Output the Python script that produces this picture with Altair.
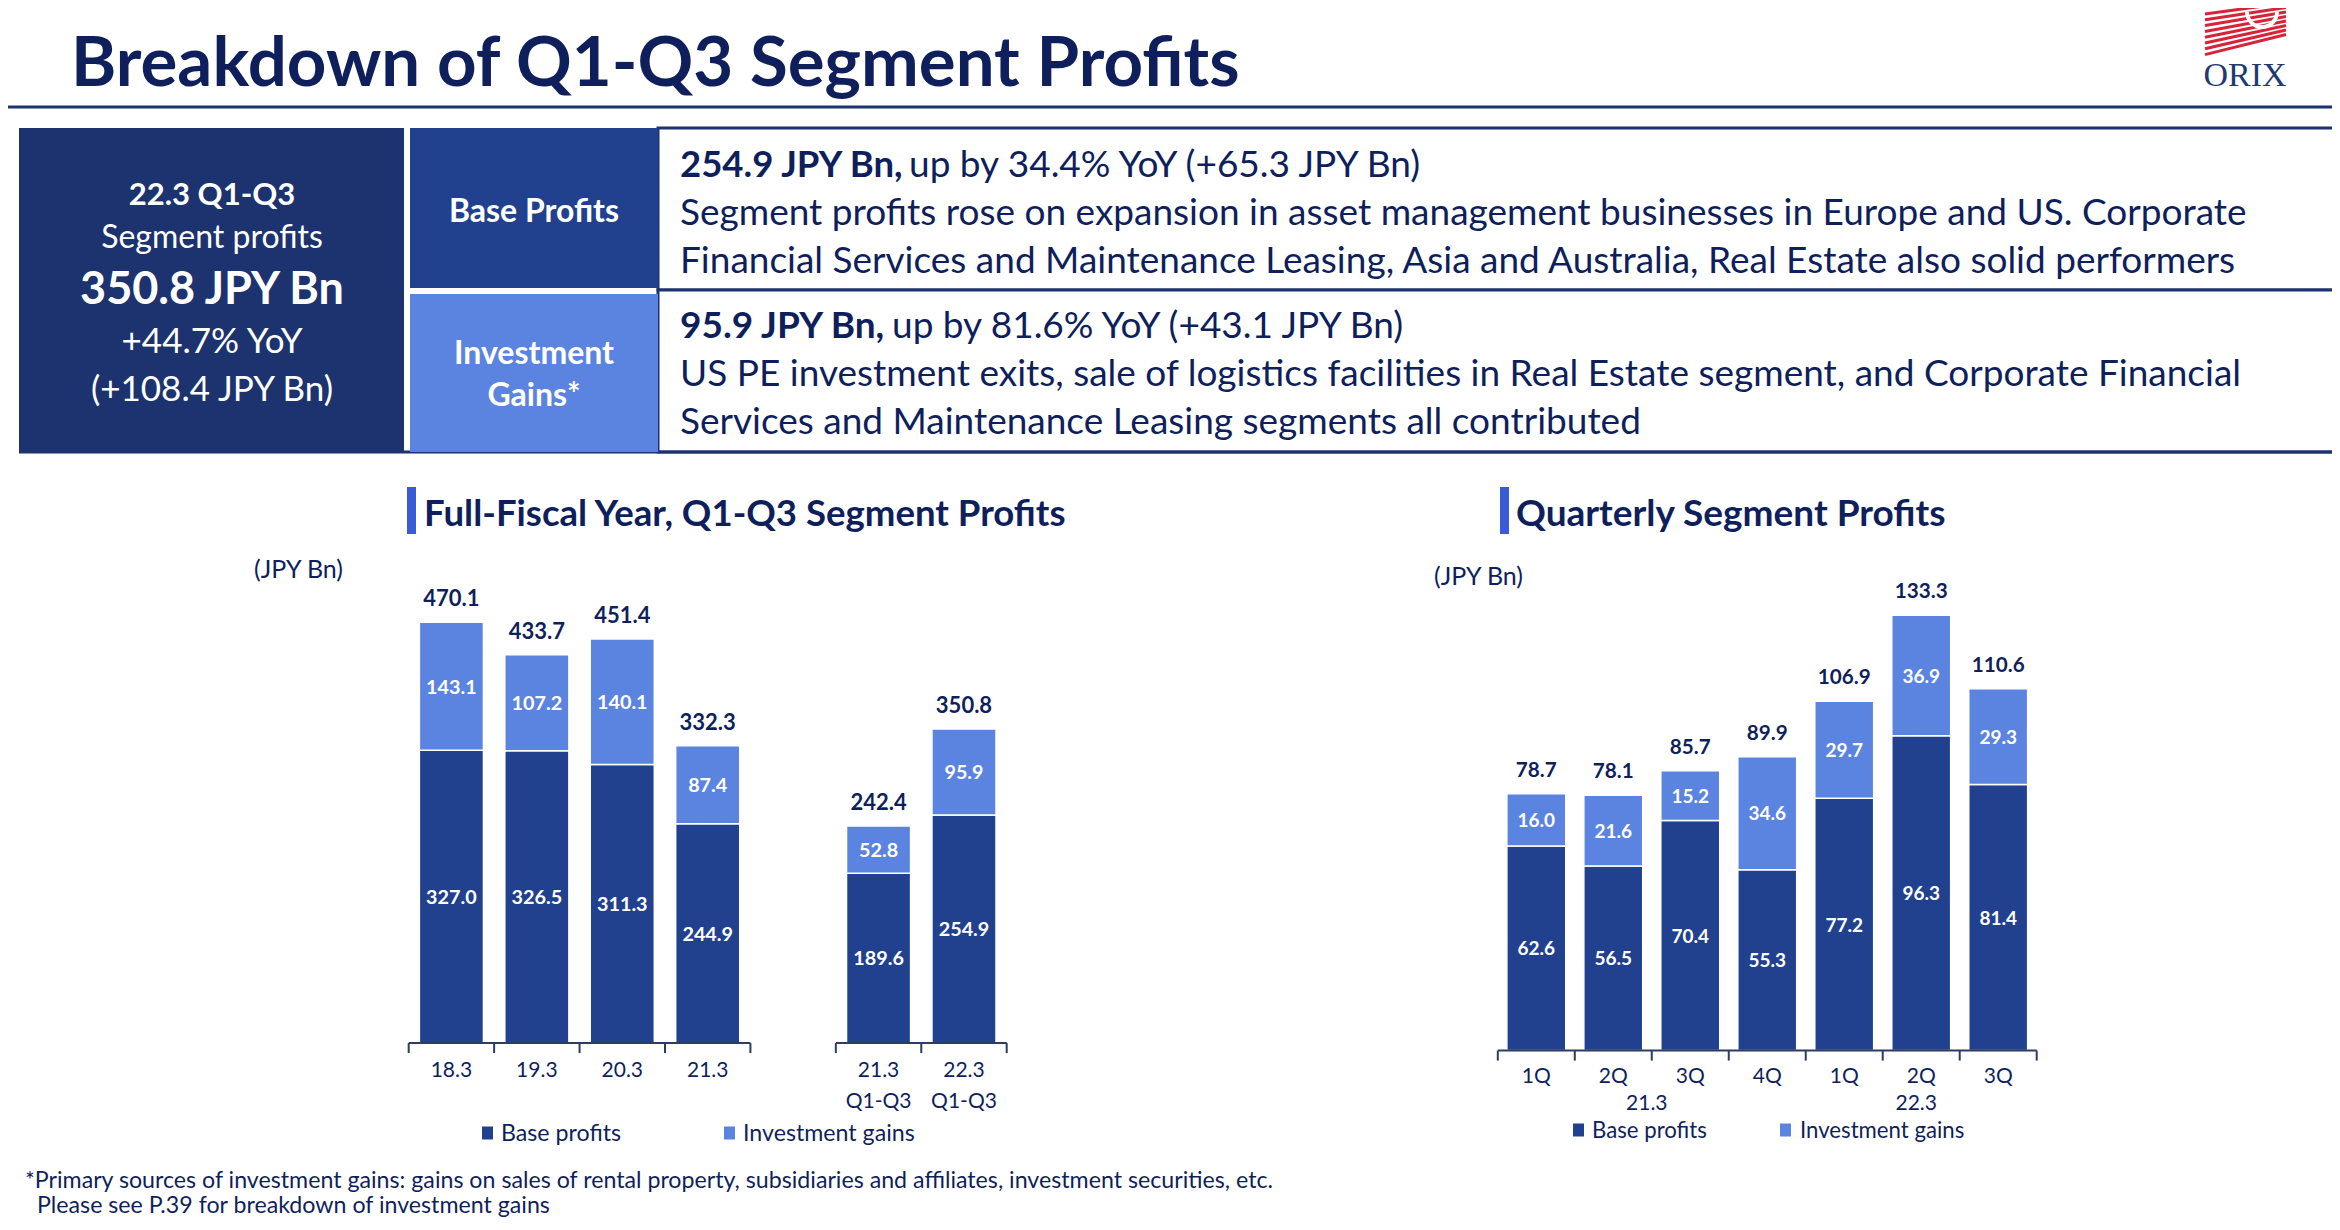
import math
import altair as alt
import pandas as pd

# ---------------- data ----------------
FY_CATS = ['18.3', '19.3', '20.3', '21.3', '21.3 Q1-Q3', '22.3 Q1-Q3']
FY_BASE = [327.0, 326.5, 311.3, 244.9, 189.6, 254.9]
FY_INV = [143.1, 107.2, 140.1, 87.4, 52.8, 95.9]
FY_TOTAL = [470.1, 433.7, 451.4, 332.3, 242.4, 350.8]
FY_GROUPS = [FY_CATS[:4], FY_CATS[4:]]

Q_FY = ['21.3', '21.3', '21.3', '21.3', '22.3', '22.3', '22.3']
Q_QTR = ['1Q', '2Q', '3Q', '4Q', '1Q', '2Q', '3Q']
Q_BASE = [62.6, 56.5, 70.4, 55.3, 77.2, 96.3, 81.4]
Q_INV = [16.0, 21.6, 15.2, 34.6, 29.7, 36.9, 29.3]
Q_TOTAL = [78.7, 78.1, 85.7, 89.9, 106.9, 133.3, 110.6]

SERIES = ['Base profits', 'Investment gains']

TITLE = 'Breakdown of Q1-Q3 Segment Profits'
SUMMARY = ['22.3 Q1-Q3', 'Segment profits', '350.8 JPY Bn', '+44.7% YoY', '(+108.4 JPY Bn)']
BASE_HEAD = ['254.9 JPY Bn,', 'up by 34.4% YoY (+65.3 JPY Bn)']
BASE_BODY = ['Segment profits rose on expansion in asset management businesses in Europe and US. Corporate',
             'Financial Services and Maintenance Leasing, Asia and Australia, Real Estate also solid performers']
INV_HEAD = ['95.9 JPY Bn,', 'up by 81.6% YoY (+43.1 JPY Bn)']
INV_BODY = ['US PE investment exits, sale of logistics facilities in Real Estate segment, and Corporate Financial',
            'Services and Maintenance Leasing segments all contributed']
FOOT = ['*Primary sources of investment gains: gains on sales of rental property, subsidiaries and affiliates, investment securities, etc.',
        'Please see P.39 for breakdown of investment gains']

# ---------------- style ----------------
FONT = 'Lato'
NAVY = '#0F1F5C'
DARK = '#1D3370'
BASE_C = '#21418F'
INV_C = '#5B84E0'
ACCENT = '#3A5BD8'
AXIS_C = '#2E3B63'
RED = '#D6243A'
M = 8
W, H = 2340 - 2 * M, 1230 - 2 * M

ONE = pd.DataFrame({'k': [0]})


def px(v):
    return v - M


def text(s, x, y, size, color=NAVY, bold=False, align='left', font=FONT, baseline='middle'):
    dy = 0.06 * size if baseline == 'middle' else 0
    return alt.Chart(ONE).mark_text(text=s, fontSize=size, font=font,
                                    fontWeight='bold' if bold else 'normal',
                                    color=color, align=align, baseline=baseline).encode(
        x=alt.value(px(x)), y=alt.value(px(y) + dy))


def rect(x0, y0, x1, y1, fill, stroke=None, sw=0):
    kw = dict(fill=fill)
    if stroke:
        kw.update(stroke=stroke, strokeWidth=sw)
    return alt.Chart(ONE).mark_rect(**kw).encode(
        x=alt.value(px(x0)), x2=alt.value(px(x1)), y=alt.value(px(y0)), y2=alt.value(px(y1)))


def rule(x0, y0, x1, y1, color, sw):
    return alt.Chart(ONE).mark_rule(color=color, strokeWidth=sw).encode(
        x=alt.value(px(x0)), x2=alt.value(px(x1)), y=alt.value(px(y0)), y2=alt.value(px(y1)))


decor = []
# title + rule
decor.append(text(TITLE, 71, 86, 69, bold=True, baseline='alphabetic'))
decor.append(rule(0, 107, 2340, 107, DARK, 3))

# logo
for i in range(8):
    decor.append(rule(2205, 14 + i * 5.8, 2286, 3 + i * 4.5, RED, 3))
decor.append(alt.Chart(ONE).mark_arc(radius=17, radius2=13, theta=math.pi / 2, theta2=3 * math.pi / 2,
                                     color='white').encode(x=alt.value(px(2262)), y=alt.value(px(12))))
decor.append(text('ORIX', 2245, 86, 34, color='#1E3B70', align='center',
                  font='Liberation Serif', baseline='alphabetic'))

# header boxes
decor.append(rect(658, 128, 2335, 290, 'white', DARK, 3))
decor.append(rect(658, 290, 2335, 452, 'white', DARK, 3))
decor.append(rule(19, 452, 2336, 452, DARK, 3))
decor.append(rect(19, 128, 404, 452, DARK))
decor.append(rect(410, 128, 658, 288, BASE_C))
decor.append(rect(410, 294, 658, 452, INV_C))

sum_y = [194, 236, 287, 340, 388]
sum_size = [31, 32, 45, 35, 35]
sum_bold = [True, False, True, False, False]
for s, y, sz, b in zip(SUMMARY, sum_y, sum_size, sum_bold):
    decor.append(text(s, 212, y, sz, color='white', bold=b, align='center'))

decor.append(text('Base Profits', 534, 210, 32, color='white', bold=True, align='center'))
decor.append(text('Investment', 534, 352, 32, color='white', bold=True, align='center'))
decor.append(text('Gains*', 534, 394, 32, color='white', bold=True, align='center'))

BODY = 37
decor.append(text(BASE_HEAD[0], 680, 164, 36.5, bold=True))
decor.append(text(BASE_HEAD[1], 909, 164, BODY))
decor.append(text(BASE_BODY[0], 680, 212, BODY))
decor.append(text(BASE_BODY[1], 680, 260, BODY))
decor.append(text(INV_HEAD[0], 680, 325, 37, bold=True))
decor.append(text(INV_HEAD[1], 892, 325, BODY))
decor.append(text(INV_BODY[0], 680, 373, BODY))
decor.append(text(INV_BODY[1], 680, 421, BODY))

# section titles
decor.append(rect(407, 487, 416, 534, ACCENT))
decor.append(text('Full-Fiscal Year, Q1-Q3 Segment Profits', 424, 513, 36.6, bold=True))
decor.append(rect(1500, 487, 1509, 534, ACCENT))
decor.append(text('Quarterly Segment Profits', 1516, 513, 37, bold=True))
decor.append(text('(JPY Bn)', 254, 568, 25))
decor.append(text('(JPY Bn)', 1434, 575, 25))


def legend(xs, cy, size):
    out = []
    for (xsq, xt), name, col in zip(xs, SERIES, [BASE_C, INV_C]):
        out.append(rect(xsq, cy - 6.5, xsq + 11, cy + 6.5, col))
        out.append(text(name, xt, cy, size))
    return out


decor += legend([(482, 501), (724, 743)], 1133, 23.2)
decor += legend([(1573, 1592), (1780, 1800)], 1130, 22.2)

decor.append(text(FOOT[0], 25, 1180, 23.2))
decor.append(text(FOOT[1], 37, 1205, 23.2))


# ---------------- bar panels ----------------
def bar_panel(df, xs, ys, step, y0, tot_size, in_size, group_keys, end_keys):
    X = alt.X('key:N', scale=xs, axis=None)
    base = alt.Chart(df).transform_calculate(
        top='datum.base + datum.inv', mid_b='datum.base / 2', mid_i='datum.base + datum.inv / 2')
    b1 = base.mark_bar(color=BASE_C, stroke='white', strokeWidth=1.5).encode(
        x=X, y=alt.Y('base:Q', scale=ys, axis=None))
    b2 = base.mark_bar(color=INV_C, stroke='white', strokeWidth=1.5).encode(
        x=X, y=alt.Y('base:Q', scale=ys, axis=None), y2='top:Q')
    tb = base.mark_text(color='white', fontWeight='bold', fontSize=in_size, font=FONT,
                        baseline='middle', dy=0.06 * in_size).encode(
        x=X, y=alt.Y('mid_b:Q', scale=ys, axis=None), text=alt.Text('base:Q', format='.1f'))
    ti = base.mark_text(color='white', fontWeight='bold', fontSize=in_size, font=FONT,
                        baseline='middle', dy=0.06 * in_size).encode(
        x=X, y=alt.Y('mid_i:Q', scale=ys, axis=None), text=alt.Text('inv:Q', format='.1f'))
    tt = base.mark_text(color=NAVY, fontWeight='bold', fontSize=tot_size, font=FONT,
                        baseline='middle', dy=-23).encode(
        x=X, y=alt.Y('top:Q', scale=ys, axis=None), text=alt.Text('total:Q', format='.1f'))
    ticks = alt.Chart(df).mark_rule(color=AXIS_C, strokeWidth=2, xOffset=-step / 2).encode(
        x=X, y=alt.value(px(y0)), y2=alt.value(px(y0) + 10))
    end_df = df[df['key'].isin(end_keys)]
    ticks2 = alt.Chart(end_df).mark_rule(color=AXIS_C, strokeWidth=2, xOffset=step / 2).encode(
        x=X, y=alt.value(px(y0)), y2=alt.value(px(y0) + 10))
    seg = pd.DataFrame({'key': [g[0] for g in group_keys], 'end': [g[-1] for g in group_keys]})
    line = alt.Chart(seg).mark_rule(color=AXIS_C, strokeWidth=2, xOffset=-step / 2,
                                    x2Offset=step / 2).encode(
        x=X, x2='end:N', y=alt.value(px(y0)))
    return [b1, b2, tb, ti, tt, line, ticks, ticks2], X


# left panel
L_X0, L_X1 = 408.7, 1006.7
L_Y0, L_K = 1043.1, 0.8952
l_step = (L_X1 - L_X0) / 7
fy_df = pd.DataFrame({'key': FY_CATS, 'base': FY_BASE, 'inv': FY_INV, 'total': FY_TOTAL})
fy_df['l1'] = [k.split(' ')[0] for k in FY_CATS]
fy_df['l2'] = [' '.join(k.split(' ')[1:]) for k in FY_CATS]
lx = alt.Scale(domain=FY_GROUPS[0] + [' '] + FY_GROUPS[1], range=[px(L_X0), px(L_X1)],
               paddingInner=0.25, paddingOuter=0.125, round=False)
ly = alt.Scale(domain=[0, 500], range=[px(L_Y0), px(L_Y0 - 500 * L_K)], nice=False)
left_layers, LX = bar_panel(fy_df, lx, ly, l_step, L_Y0, 22, 19.8, FY_GROUPS,
                            [g[-1] for g in FY_GROUPS])
left_layers.append(alt.Chart(fy_df).mark_text(color=NAVY, fontSize=21, font=FONT, baseline='middle').encode(
    x=LX, y=alt.value(px(1070) + 1.3), text='l1:N'))
left_layers.append(alt.Chart(fy_df[fy_df['l2'] != '']).mark_text(color=NAVY, fontSize=21, font=FONT,
                                                               baseline='middle').encode(
    x=LX, y=alt.value(px(1101) + 1.3), text='l2:N'))
left = alt.layer(*left_layers)

# right panel
R_X0, R_X1 = 1497.8, 2036.7
R_Y0, R_K = 1050.6, 3.269
r_step = (R_X1 - R_X0) / 7
q_keys = [f + ' ' + q for f, q in zip(Q_FY, Q_QTR)]
q_df = pd.DataFrame({'key': q_keys, 'base': Q_BASE, 'inv': Q_INV, 'total': Q_TOTAL,
                     'qtr': Q_QTR, 'fy': Q_FY})
rx = alt.Scale(domain=q_keys, range=[px(R_X0), px(R_X1)], paddingInner=0.235, paddingOuter=0.1175,
               round=False)
ry = alt.Scale(domain=[0, 140], range=[px(R_Y0), px(R_Y0 - 140 * R_K)], nice=False)
right_layers, RX = bar_panel(q_df, rx, ry, r_step, R_Y0, 20.7, 19, [q_keys], [q_keys[-1]])
right_layers.append(alt.Chart(q_df).mark_text(color=NAVY, fontSize=21, font=FONT, baseline='middle').encode(
    x=RX, y=alt.value(px(1076) + 1.3), text='qtr:N'))
for fy in dict.fromkeys(Q_FY):
    members = [k for k, f in zip(q_keys, Q_FY) if f == fy]
    n = len(members)
    if n % 2 == 0:
        anchor, off = members[n // 2 - 1], r_step / 2
    else:
        anchor, off = members[n // 2], 0
    right_layers.append(alt.Chart(q_df[q_df['key'] == anchor]).mark_text(
        color=NAVY, fontSize=21, font=FONT, baseline='middle', xOffset=off - 5).encode(
        x=RX, y=alt.value(px(1103) + 1.3), text='fy:N'))
right = alt.layer(*right_layers)

chart = alt.layer(*decor, left, right).resolve_scale(
    x='independent', y='independent'
).properties(
    width=W, height=H, padding=0, autosize=alt.AutoSizeParams(type='none'), background='white'
).configure_view(stroke=None)

chart.save('out.html', embed_options={'renderer': 'svg', 'actions': False})
